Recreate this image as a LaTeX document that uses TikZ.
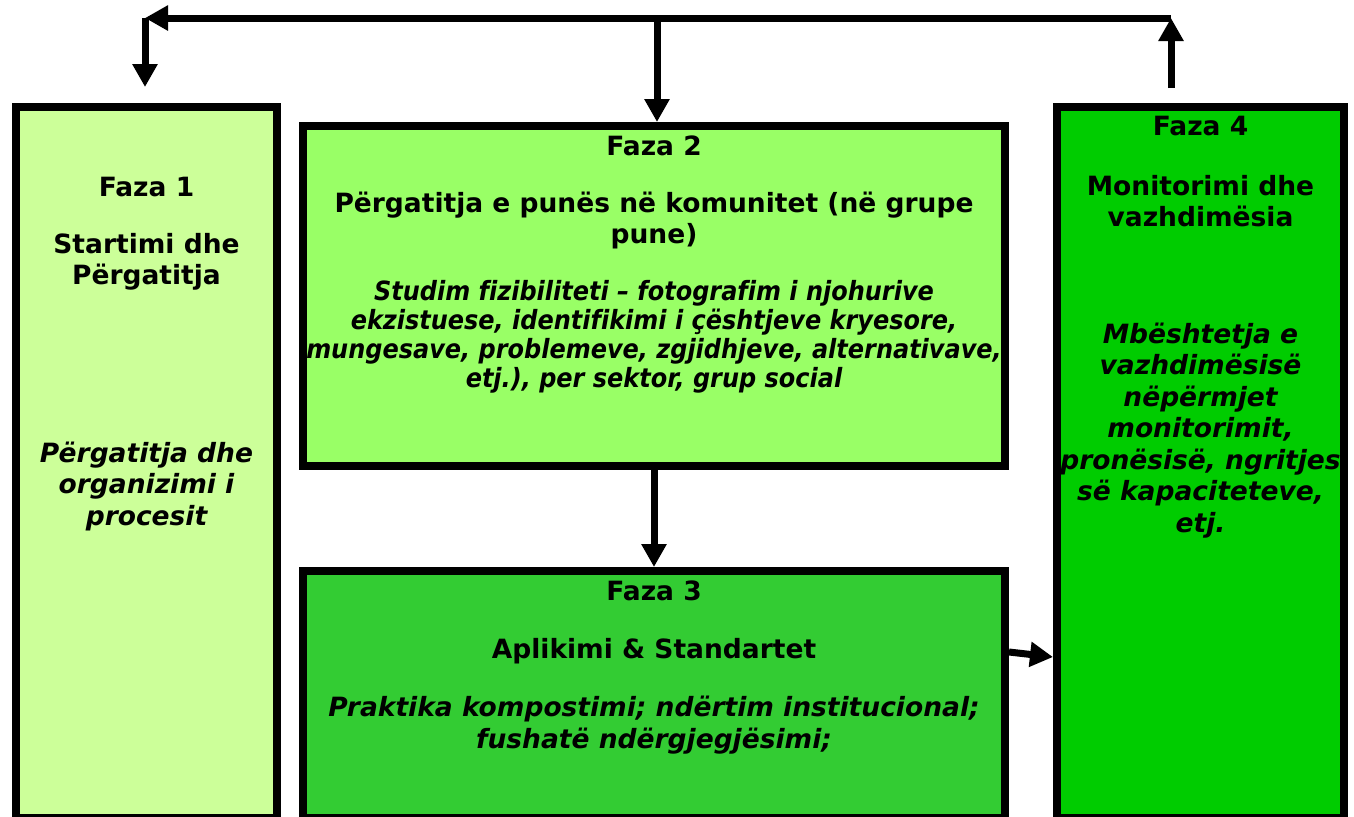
\documentclass[tikz,border=0pt]{standalone}
\usepackage{fontspec}
\setmainfont{DejaVu Sans}[Ligatures=NoCommon]
\newfontfamily\condfont{DejaVu Sans}[FakeStretch=0.905, Ligatures=NoCommon]
\usetikzlibrary{arrows.meta}
\definecolor{cA}{HTML}{CCFF99}
\definecolor{cB}{HTML}{99FF66}
\definecolor{cC}{HTML}{33CC33}
\definecolor{cD}{HTML}{00CC00}
\tikzset{
  phase/.style={draw=black, line width=4pt, inner sep=0pt, rectangle},
  conn/.style={line width=3.5pt, -{Triangle[length=11.5pt,width=12pt]}},
  plain/.style={line width=3.5pt},
  ttl/.style={font=\fontsize{13.25}{15.75}\selectfont\bfseries, align=center, anchor=base, inner sep=0pt},
  itl/.style={font=\fontsize{13.25}{15.75}\selectfont\bfseries\itshape, align=center, anchor=base, inner sep=0pt},
  itlcond/.style={itl, font=\condfont\fontsize{13.25}{14.5}\selectfont\bfseries\itshape}
}
\begin{document}
\begin{tikzpicture}[x=0.5pt,y=-0.5pt]
\useasboundingbox (0,0) rectangle (1354,816);
% boxes
\node[phase, fill=cA, minimum width=130.5pt, minimum height=355.5pt] (b1) at (146.5,462.5) {};
\node[phase, fill=cB, minimum width=351pt, minimum height=170pt] (b2) at (654,296) {};
\node[phase, fill=cC, minimum width=351pt, minimum height=123.5pt] (b3) at (654,694.5) {};
\node[phase, fill=cD, minimum width=143.5pt, minimum height=355.5pt] (b4) at (1200.5,462.5) {};
% texts box 1 (anchor = baseline of last line)
\node[ttl] (t1a) at (146.5,196) {Faza 1};
\node[ttl] (t1b) at (146.5,284.5) {Startimi dhe\\Përgatitja};
\node[itl] (t1c) at (146.5,525) {Përgatitja dhe\\organizimi i\\procesit};
% texts box 2
\node[ttl] (t2a) at (654,155) {Faza 2};
\node[ttl] (t2b) at (654,243.5) {Përgatitja e punës në komunitet (në grupe\\pune)};
\node[itlcond] (t2c) at (654,387) {Studim fizibiliteti – fotografim i njohurive\\ekzistuese, identifikimi i çështjeve kryesore,\\mungesave, problemeve, zgjidhjeve, alternativave,\\etj.), per sektor, grup social};
% texts box 3
\node[ttl] (t3a) at (654,600) {Faza 3};
\node[ttl] (t3b) at (654,658) {Aplikimi \& Standartet};
\node[itl] (t3c) at (654,748) {Praktika kompostimi; ndërtim institucional;\\fushatë ndërgjegjësimi;};
% texts box 4
\node[ttl] (t4a) at (1200.5,135) {Faza 4};
\node[ttl] (t4b) at (1200.5,226.5) {Monitorimi dhe\\vazhdimësia};
\node[itl] (t4c) at (1200.5,532) {Mbështetja e\\vazhdimësisë\\nëpërmjet\\monitorimit,\\pronësisë, ngritjes\\së kapaciteteve,\\etj.};
% coordinates
\coordinate (tl) at (145,18);
\coordinate (tm) at (657,18);
\coordinate (tr) at (1171,18);
\coordinate (ru) at (1171,88);
\coordinate (ld) at (145,87);
% connectors
\draw[conn] (ru) -- (tr);
\draw[plain] (tr) -- (tm);
\draw[conn] (tm) -- (tl);
\draw[conn] (tl) -- (ld);
\draw[conn] (tm) -- (b2.north -| tm);
\draw[conn] (b2.south) -- (b3.north);
\draw[conn] ([yshift=21.25pt]b3.east) -- ([yshift=-97.25pt]b4.west);
\end{tikzpicture}
\end{document}
